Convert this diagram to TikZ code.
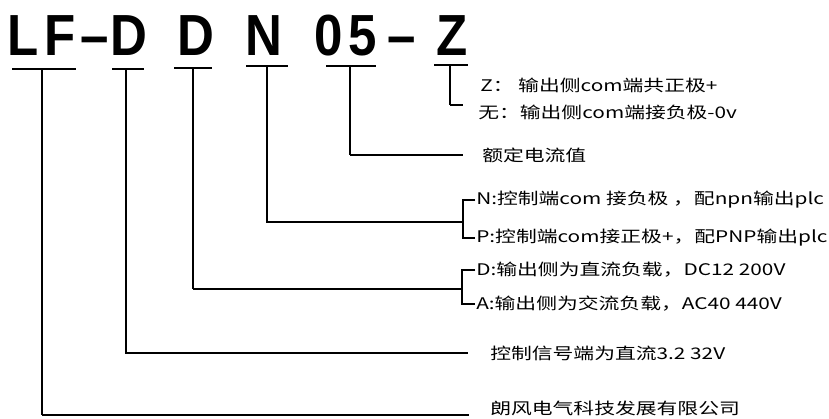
\documentclass[tikz,border=0pt]{standalone}
\usepackage{fontspec}
\setmainfont{Liberation Sans}
\newfontfamily\cjk{Noto Sans CJK SC}
\usetikzlibrary{positioning}

\tikzset{
  codeletter/.style={font=\bfseries\fontsize{58}{58}\selectfont,anchor=base,inner sep=0pt,xscale=0.88},
  note/.style={font=\cjk\fontsize{16}{16}\selectfont,anchor=west,inner sep=0pt,xscale=1.3},
  thinrule/.style={line width=1.1pt},
  thickrule/.style={line width=2.6pt},
  midrule/.style={line width=1.8pt}
}

\begin{document}
\begin{tikzpicture}[x=1pt,y=-1pt]
\useasboundingbox (0,0) rectangle (829,418);

% model code
\node[codeletter] (cL) at (23.5,55) {L};
\node[codeletter] (cF) at (60,55) {F};
\node[codeletter] (cdashA) at (95,55) {–};
\node[codeletter] (cDa) at (129,55) {D};
\node[codeletter] (cDb) at (196,55) {D};
\node[codeletter] (cN) at (264,55) {N};
\node[codeletter] (czero) at (329,55) {0};
\node[codeletter] (cfive) at (362.5,55) {5};
\node[codeletter] (cdashB) at (401.5,55) {–};
\node[codeletter] (cZ) at (452,55) {Z};

% notes
\node[note] (zpos) at (480,85) {Z： 输出侧com端共正极+};
\node[note] (zneg) at (478,112) {无：输出侧com端接负极-0v};
\node[note] (amp) at (482,155) {额定电流值};
\node[note] (npn) at (476,200) {N:控制端com 接负极 ，配npn输出plc};
\node[note] (pnp) at (476,238) {P:控制端com接正极+，配PNP输出plc};
\node[note] (dc) at (476,270) {D:输出侧为直流负载，DC12 200V};
\node[note] (ac) at (476,304) {A:输出侧为交流负载，AC40 440V};
\node[note] (ctrl) at (490,353) {控制信号端为直流3.2 32V};
\node[note] (firm) at (490,408) {朗风电气科技发展有限公司};

% Z
\draw[thickrule] (434,65) -- (468,65);
\draw[thickrule] (450,65) -- (450,105);
\draw[thinrule] (450,105) -- ++(13,0);

% 05
\draw[thickrule] (326,66) -- (376,66);
\draw[thickrule] (350,66) -- (350,155);
\draw[thinrule] (350,155) -- ([xshift=-19pt]amp.west);

% N
\draw[thickrule] (246,66) -- (288,66);
\draw[thickrule] (267,66) -- (267,222) -- (463,222);
\draw[midrule] ([xshift=-1pt]npn.west) -| (463,222) |- ([xshift=-1pt]pnp.west);

% D (load)
\draw[thickrule] (174,68) -- (212,68);
\draw[thinrule] (193,68) -- (193,289);
\draw[thickrule] (193,289) -- (462,289);
\draw[midrule] ([xshift=-1pt]dc.west) -| (462,289) |- ([xshift=-1pt]ac.west);

% D (control)
\draw[thinrule] (112,69) -- (144,69);
\draw[thickrule] (126,69) -- (126,353) -- ([xshift=-22pt]ctrl.west);

% LF
\draw[thinrule] (12,69) -- (76,69);
\draw[thinrule] (42,69) -- (42,415);
\coordinate (firmend) at (469,415);
\draw[thickrule] (42,415) -- (firmend);

\end{tikzpicture}
\end{document}
